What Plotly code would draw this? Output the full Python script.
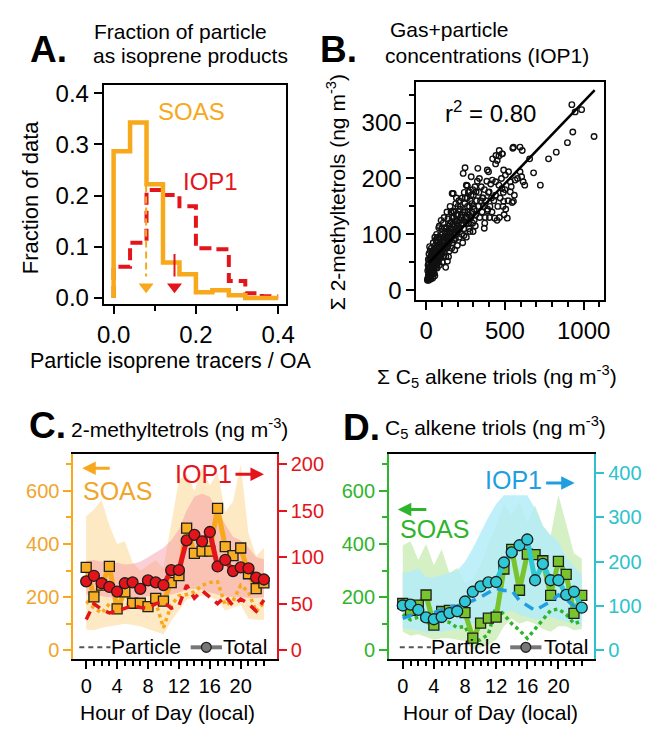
import plotly.graph_objects as go

W, H = 654, 733
FONT = "Liberation Sans, Arial, Helvetica, sans-serif"


def PX(x):
    return x / W


def PY(y):
    return 1 - y / H


# ---------------- Panel A data ----------------
bin_edges = [0.0, 0.04, 0.08, 0.12, 0.16, 0.20, 0.24, 0.28, 0.32, 0.36, 0.40]
soas_frac = [0.287, 0.343, 0.222, 0.069, 0.046, 0.011, 0.015, 0.005, 0.0, 0.0]
iop1_frac = [0.061, 0.108, 0.211, 0.201, 0.179, 0.097, 0.095, 0.033, 0.009, 0.003]
soas_mean = 0.079
iop1_mean = 0.148
soas_arrow_top = 0.22
iop1_arrow_top = 0.086
arrow_head_y = 0.022

# ---------------- Panel B data ----------------
b_triols = [
    8, 12, 15, 10, 18, 20, 25, 22, 14, 28, 30, 35, 32, 38, 40, 18, 25, 35, 12, 28,
    45, 50, 42, 55, 48, 60, 65, 58, 70, 75, 62, 72, 78, 52, 68, 80, 45, 55, 75, 66,
    85, 90, 95, 88, 100, 105, 92, 110, 115, 98, 108, 118, 84, 102, 112, 120, 95, 86, 114, 124,
    125, 130, 135, 128, 140, 145, 150, 138, 155, 160, 165, 148, 158, 132, 168, 142, 162, 152, 170, 135,
    175, 180, 185, 178, 190, 195, 200, 188, 205, 210, 215, 198, 208, 182, 172, 192, 220, 212, 202, 225,
    230, 235, 240, 245, 250, 255, 260, 265, 270, 275, 247, 235, 260, 255, 228, 242, 268, 278, 232, 286,
    285, 290, 295, 300, 305, 310, 315, 320, 325, 330, 335, 340, 345, 317, 276, 328, 298, 312, 350, 338,
    355, 360, 365, 370, 375, 380, 385, 390, 395, 400, 396, 405, 410, 415, 359, 420, 372, 388, 402, 418,
    422, 441, 443, 451, 462, 464, 482, 484, 441, 462, 482, 441, 430, 455, 470, 490, 495, 465, 450, 478,
    503, 492, 492, 488, 500, 435, 389, 369, 165, 260,
    515, 523, 534, 534, 546, 554, 550, 554, 565, 596, 610, 596, 606, 616, 626, 657, 682, 580, 520, 540,
    560, 505,
    725, 777, 826, 897, 931, 925, 946, 987, 1066,
    20, 30, 15, 42, 60, 26, 48, 36, 70, 90, 22, 55, 105, 130, 150, 80, 65, 40, 16, 33,
    10, 14, 16, 20, 24, 26, 30, 34, 36, 40, 44, 46, 50, 54, 58, 22, 32, 42, 52, 60,
    62, 66, 70, 74, 78, 82, 86, 90, 94, 98, 102, 106, 110, 114, 118, 72, 88, 104, 116, 122,
    126, 132, 138, 144, 150, 156, 162, 168, 174, 180, 186, 192, 198, 146, 134, 176, 190, 160, 170, 200,
    206, 214, 222, 230, 238, 246, 254, 262, 270, 280, 290, 300, 218, 248, 272, 240, 296, 285, 305, 260,
]
b_tetrols = [
    18, 22, 28, 35, 40, 25, 32, 48, 55, 60, 20, 38, 50, 28, 45, 65, 70, 62, 45, 42,
    35, 48, 58, 62, 72, 40, 55, 80, 68, 50, 90, 85, 75, 30, 45, 60, 85, 95, 95, 100,
    45, 58, 70, 82, 65, 90, 100, 78, 95, 110, 120, 105, 115, 50, 62, 85, 125, 95, 130, 41,
    60, 75, 95, 110, 85, 105, 120, 128, 95, 110, 130, 70, 140, 140, 85, 60, 75, 150, 118, 52,
    90, 105, 125, 140, 100, 115, 135, 155, 120, 95, 145, 80, 160, 72, 173, 165, 130, 110, 150, 100,
    120, 140, 110, 155, 130, 95, 165, 140, 120, 150, 219, 209, 187, 188, 165, 175, 175, 105, 85, 203,
    130, 155, 120, 170, 145, 185, 135, 160, 195, 150, 175, 130, 160, 176, 176, 218, 105, 115, 185, 200,
    140, 165, 150, 180, 130, 160, 195, 145, 175, 176, 212, 150, 190, 165, 165, 197, 120, 215, 130, 140,
    235, 226, 241, 232, 240, 250, 244, 244, 194, 188, 182, 170, 160, 150, 165, 175, 135, 130, 125, 200,
    206, 215, 159, 150, 180, 129, 142, 111, 173, 187,
    129, 212, 194, 176, 157, 159, 254, 256, 197, 256, 250, 212, 203, 194, 188, 235, 210, 200, 160, 185,
    170, 145,
    188, 235, 247, 264, 283, 332, 319, 323, 275,
    30, 52, 38, 22, 48, 58, 30, 70, 40, 60, 78, 26, 80, 92, 104, 112, 88, 55, 48, 75,
    20, 25, 18, 30, 22, 38, 28, 33, 45, 30, 40, 52, 38, 45, 55, 55, 58, 66, 75, 65,
    48, 60, 55, 62, 70, 55, 68, 75, 62, 80, 72, 85, 68, 88, 76, 78, 90, 100, 112, 95,
    82, 90, 78, 95, 88, 102, 95, 108, 100, 115, 92, 110, 125, 115, 105, 130, 135, 122, 142, 105,
    110, 125, 118, 135, 125, 140, 120, 150, 135, 160, 140, 150, 150, 165, 110, 98, 180, 170, 125, 130,
]
fit_x = [20, 1070]
fit_y = [50, 358]
r2_value = "0.80"

# ---------------- Panel C / D data ----------------
hours = list(range(24))
soas_mt_total = [312, 201, 245, 316, 156, 220, 177, 177, 164, 195, 185, 255,
                 281, 460, 365, 373, 373, 534, 390, 356, 385, 288, 232, 254]
soas_mt_part = [185, 160, 140, 175, 175, 180, 170, 170, 175, 180, 85, 170,
                205, 210, 220, 245, 255, 258, 170, 185, 245, 220, 145, 180]
soas_mt_hi = [505, 530, 566, 470, 400, 410, 330, 300, 320, 340, 310, 470,
              640, 665, 600, 690, 620, 670, 520, 560, 700, 440, 355, 385]
soas_mt_lo = [78, 75, 85, 90, 95, 100, 95, 90, 80, 70, 60, 110,
              150, 190, 200, 205, 200, 190, 150, 160, 170, 120, 115, 115]
iop1_mt_total = [74, 80, 72, 68, 63, 72, 73, 66, 75, 73, 70, 86,
                 86, 118, 124, 117, 127, 90, 97, 85, 89, 88, 78, 76]
iop1_mt_part = [33, 50, 44, 40, 42, 45, 48, 46, 45, 50, 52, 45,
                48, 70, 56, 64, 57, 50, 58, 48, 55, 50, 42, 54]
iop1_mt_hi = [96, 97, 95, 95, 94, 92, 93, 95, 100, 105, 110, 118,
              130, 150, 165, 168, 165, 150, 135, 122, 118, 110, 100, 98]
iop1_mt_lo = [60, 60, 58, 57, 56, 56, 57, 57, 58, 58, 58, 60,
              62, 65, 66, 65, 62, 60, 58, 57, 57, 56, 56, 57]

soas_tr_total = [176, 150, 170, 208, 95, 146, 150, 148, 142, 46, 102, 121,
                 125, 306, 380, 226, 362, 360, 337, 207, 335, 286, 139, 207]
soas_tr_part = [135, 115, 125, 105, 100, 110, 105, 85, 90, 30, 40, 60,
                165, 135, 100, 75, 45, 80, 120, 150, 155, 135, 100, 110]
soas_tr_hi = [395, 410, 340, 400, 320, 380, 290, 310, 250, 270, 320, 400,
              470, 550, 510, 560, 480, 545, 470, 430, 585, 470, 365, 345]
soas_tr_lo = [70, 55, 60, 50, 40, 45, 45, 40, 35, 5, 10, 20,
              40, 90, 120, 100, 110, 100, 80, 70, 90, 90, 75, 80]
iop1_tr_total = [101, 103, 91, 74, 70, 75, 84, 88, 110, 132, 144, 153,
                 154, 198, 221, 237, 250, 158, 195, 158, 158, 125, 132, 96]
iop1_tr_part = [72, 78, 88, 80, 85, 92, 98, 100, 105, 112, 120, 130,
                140, 135, 135, 112, 100, 90, 100, 110, 125, 115, 100, 92]
iop1_tr_hi = [175, 178, 185, 165, 165, 170, 175, 180, 200, 230, 265, 300,
              330, 350, 350, 350, 350, 320, 280, 260, 245, 210, 190, 170]
iop1_tr_lo = [50, 48, 45, 40, 40, 42, 45, 48, 55, 60, 65, 70,
              75, 85, 90, 80, 75, 70, 70, 75, 70, 65, 60, 55]

hour_ticks = [0, 4, 8, 12, 16, 20]

# ---------------- colours ----------------
ORANGE = "#f7a81b"
ORANGE_TXT = "#f0a52c"
RED = "#e4141c"
GREEN = "#2fb52c"
GREEN_SQ = "#79c32c"
CYAN = "#2cc3cc"
CYAN_C = "#30c8d4"
BLUE = "#1f9fe2"
EDGE = "#1e1e1e"
SOAS_BAND = "rgb(253,233,196)"
IOP1_BAND = "rgba(243,140,155,0.42)"
GREEN_BAND = "rgb(212,240,196)"
CYAN_BAND = "rgba(180,236,248,0.85)"

fig = go.Figure()

# ================= Panel A =================
step_x = [bin_edges[0]] + bin_edges
fig.add_trace(go.Scatter(x=step_x, y=[0] + iop1_frac + [iop1_frac[-1]], mode="lines",
                         line=dict(color=RED, width=4, dash="12px,6px", shape="hv"),
                         xaxis="x", yaxis="y", showlegend=False))
fig.add_trace(go.Scatter(x=step_x, y=[0] + soas_frac + [soas_frac[-1]], mode="lines",
                         line=dict(color=ORANGE, width=4.5, shape="hv"),
                         xaxis="x", yaxis="y", showlegend=False))
fig.add_trace(go.Scatter(x=[soas_mean, soas_mean], y=[soas_arrow_top, arrow_head_y + 0.02], mode="lines",
                         line=dict(color=ORANGE, width=2, dash="7px,4px"),
                         xaxis="x", yaxis="y", showlegend=False))
fig.add_trace(go.Scatter(x=[iop1_mean, iop1_mean], y=[iop1_arrow_top, arrow_head_y + 0.02], mode="lines",
                         line=dict(color=RED, width=2),
                         xaxis="x", yaxis="y", showlegend=False))
fig.add_trace(go.Scatter(x=[soas_mean, iop1_mean], y=[arrow_head_y, arrow_head_y], mode="markers",
                         marker=dict(symbol="triangle-down", size=13, color=[ORANGE, RED], line=dict(width=0)),
                         xaxis="x", yaxis="y", showlegend=False))

# ================= Panel B =================
fig.add_trace(go.Scatter(x=b_triols, y=b_tetrols, mode="markers",
                         marker=dict(symbol="circle-open", size=5.5, color="#111", line=dict(width=1.4)),
                         xaxis="x2", yaxis="y2", showlegend=False))
fig.add_trace(go.Scatter(x=fit_x, y=fit_y, mode="lines", line=dict(color="black", width=2.5),
                         xaxis="x2", yaxis="y2", showlegend=False))


def band(xs, lo, hi, color, xa, ya):
    fig.add_trace(go.Scatter(x=xs, y=lo, mode="lines", line=dict(width=0, color=color),
                             xaxis=xa, yaxis=ya, showlegend=False, hoverinfo="skip"))
    fig.add_trace(go.Scatter(x=xs, y=hi, mode="lines", line=dict(width=0, color=color),
                             fill="tonexty", fillcolor=color,
                             xaxis=xa, yaxis=ya, showlegend=False, hoverinfo="skip"))


# ================= Panel C =================
band(hours, soas_mt_lo, soas_mt_hi, SOAS_BAND, "x3", "y3")
band(hours, iop1_mt_lo, iop1_mt_hi, IOP1_BAND, "x3", "y4")
fig.add_trace(go.Scatter(x=hours, y=soas_mt_part, mode="lines",
                         line=dict(color=ORANGE, width=3.5, dash="dot"),
                         xaxis="x3", yaxis="y5", showlegend=False))
fig.add_trace(go.Scatter(x=hours, y=soas_mt_total, mode="lines+markers",
                         line=dict(color=ORANGE, width=5),
                         marker=dict(symbol="square", size=10, color="#f7ae22", line=dict(color=EDGE, width=1.3)),
                         xaxis="x3", yaxis="y5", showlegend=False))
fig.add_trace(go.Scatter(x=hours, y=iop1_mt_part, mode="lines",
                         line=dict(color=RED, width=3.5, dash="9px,7px"),
                         xaxis="x3", yaxis="y6", showlegend=False))
fig.add_trace(go.Scatter(x=hours, y=iop1_mt_total, mode="lines+markers",
                         line=dict(color=RED, width=5),
                         marker=dict(symbol="circle", size=11, color=RED, line=dict(color=EDGE, width=1.3)),
                         xaxis="x3", yaxis="y6", showlegend=False))

# ================= Panel D =================
band(hours, soas_tr_lo, soas_tr_hi, GREEN_BAND, "x4", "y7")
band(hours, iop1_tr_lo, iop1_tr_hi, CYAN_BAND, "x4", "y8")
fig.add_trace(go.Scatter(x=hours, y=soas_tr_part, mode="lines",
                         line=dict(color=GREEN, width=3.5, dash="dot"),
                         xaxis="x4", yaxis="y9", showlegend=False))
fig.add_trace(go.Scatter(x=hours, y=soas_tr_total, mode="lines+markers",
                         line=dict(color=GREEN_SQ, width=5),
                         marker=dict(symbol="square", size=10, color=GREEN_SQ, line=dict(color=EDGE, width=1.3)),
                         xaxis="x4", yaxis="y9", showlegend=False))
fig.add_trace(go.Scatter(x=hours, y=iop1_tr_part, mode="lines",
                         line=dict(color=BLUE, width=3.5, dash="10px,7px"),
                         xaxis="x4", yaxis="y10", showlegend=False))
fig.add_trace(go.Scatter(x=hours, y=iop1_tr_total, mode="lines+markers",
                         line=dict(color=CYAN_C, width=5),
                         marker=dict(symbol="circle", size=11, color=CYAN_C, line=dict(color=EDGE, width=1.3)),
                         xaxis="x4", yaxis="y10", showlegend=False))

# ================= Axes =================
tickf_big = dict(family=FONT, size=24, color="black")
tickf = dict(family=FONT, size=20, color="black")


def frame_axis(**kw):
    base = dict(showline=True, linecolor="black", linewidth=2, mirror=True, ticks="outside",
                ticklen=8, tickwidth=2, tickcolor="black", showgrid=False, zeroline=False)
    base.update(kw)
    return base


layout = dict(
    width=W, height=H, margin=dict(l=0, r=0, t=0, b=0),
    paper_bgcolor="white", plot_bgcolor="rgba(0,0,0,0)",
    font=dict(family=FONT, color="black"),
    showlegend=False,
)

# A
layout["xaxis"] = frame_axis(domain=[PX(99), PX(286)], range=[-0.024, 0.42], anchor="y",
                             tickvals=[0, 0.2, 0.4], ticktext=["0.0", "0.2", "0.4"], tickfont=tickf_big,
                             minor=dict(tickvals=[0.1, 0.3], ticklen=5, tickwidth=2, tickcolor="black", ticks="outside"))
layout["yaxis"] = frame_axis(domain=[PY(304), PY(81)], range=[-0.012, 0.417], anchor="x",
                             tickvals=[0, 0.1, 0.2, 0.3, 0.4], ticktext=["0.0", "0.1", "0.2", "0.3", "0.4"],
                             tickfont=tickf_big)
# B
layout["xaxis2"] = frame_axis(domain=[PX(419), PX(611)], range=[-62, 1129], anchor="y2",
                              tickvals=[0, 500, 1000], tickfont=tickf_big,
                              minor=dict(dtick=100, tick0=0, ticklen=5, tickwidth=2, tickcolor="black", ticks="outside"))
layout["yaxis2"] = frame_axis(domain=[PY(300), PY(78)], range=[-17.6, 373], anchor="x2",
                              tickvals=[0, 100, 200, 300], tickfont=tickf_big,
                              minor=dict(dtick=50, tick0=0, ticklen=5, tickwidth=2, tickcolor="black", ticks="outside"))

# C
c_dom_y = [PY(665), PY(456)]
left_rng = [-33.3, 740.7]
layout["xaxis3"] = frame_axis(domain=[PX(68), PX(276)], range=[-1.65, 24.65], anchor="y3",
                              tickvals=hour_ticks, tickfont=tickf,
                              minor=dict(tickvals=hours, ticklen=5, tickwidth=2, tickcolor="black", ticks="outside"))
layout["yaxis3"] = dict(domain=c_dom_y, range=left_rng, anchor="x3", side="left",
                        showline=True, linecolor=ORANGE, linewidth=2, ticks="outside", ticklen=8, tickwidth=2,
                        tickcolor=ORANGE, tickvals=[0, 200, 400, 600],
                        tickfont=dict(family=FONT, size=20, color=ORANGE_TXT), showgrid=False, zeroline=False,
                        minor=dict(tickvals=[100, 300, 500, 700], ticklen=5, tickwidth=2, tickcolor=ORANGE, ticks="outside"))
layout["yaxis4"] = dict(range=[-9.5, 211.3], anchor="x3", overlaying="y3", side="right",
                        showline=True, linecolor=RED, linewidth=2, ticks="outside", ticklen=8, tickwidth=2,
                        tickcolor=RED, tickvals=[0, 50, 100, 150, 200],
                        tickfont=dict(family=FONT, size=20, color=RED), showgrid=False, zeroline=False)
layout["yaxis5"] = dict(range=left_rng, anchor="x3", overlaying="y3", side="left", visible=False)
layout["yaxis6"] = dict(range=[-9.5, 211.3], anchor="x3", overlaying="y3", side="right", visible=False)

# D
layout["xaxis4"] = frame_axis(domain=[PX(391), PX(601)], range=[-1.76, 24.6], anchor="y7",
                              tickvals=hour_ticks, tickfont=tickf,
                              minor=dict(tickvals=hours, ticklen=5, tickwidth=2, tickcolor="black", ticks="outside"))
layout["yaxis7"] = dict(domain=c_dom_y, range=left_rng, anchor="x4", side="left",
                        showline=True, linecolor=GREEN, linewidth=2, ticks="outside", ticklen=8, tickwidth=2,
                        tickcolor=GREEN, tickvals=[0, 200, 400, 600],
                        tickfont=dict(family=FONT, size=20, color=GREEN), showgrid=False, zeroline=False,
                        minor=dict(tickvals=[100, 300, 500, 700], ticklen=5, tickwidth=2, tickcolor=GREEN, ticks="outside"))
layout["yaxis8"] = dict(range=[-20, 444], anchor="x4", overlaying="y7", side="right",
                        showline=True, linecolor=CYAN, linewidth=2, ticks="outside", ticklen=8, tickwidth=2,
                        tickcolor=CYAN, tickvals=[0, 100, 200, 300, 400],
                        tickfont=dict(family=FONT, size=20, color=CYAN), showgrid=False, zeroline=False)
layout["yaxis9"] = dict(range=left_rng, anchor="x4", overlaying="y7", side="left", visible=False)
layout["yaxis10"] = dict(range=[-20, 444], anchor="x4", overlaying="y7", side="right", visible=False)

fig.update_layout(**layout)

# ================= Text =================
ann = []


def txt(text, x, y, size, color="black", xanchor="center", yanchor="middle", angle=0, bold=False, ref="paper"):
    t = "<b>%s</b>" % text if bold else text
    d = dict(text=t, x=x, y=y, showarrow=False, xanchor=xanchor, yanchor=yanchor, textangle=angle,
             font=dict(family=FONT, size=size, color=color))
    if ref == "paper":
        d.update(xref="paper", yref="paper")
    else:
        d.update(xref=ref[0], yref=ref[1])
    ann.append(d)


def arrow(x_tip, y_tip, dx, color):
    ann.append(dict(x=PX(x_tip), y=PY(y_tip), xref="paper", yref="paper", ax=dx, ay=0,
                    axref="pixel", ayref="pixel", text="", showarrow=True,
                    arrowhead=2, arrowsize=0.9, arrowwidth=3, arrowcolor=color))


# A
txt("A.", PX(42), PY(45), 37, bold=True)
txt("Fraction of particle", PX(178), PY(27), 21)
txt("as isoprene products", PX(188), PY(51), 21)
txt("Fraction of data", PX(24), PY(195), 22, angle=-90)
txt("Particle isoprene tracers / OA", PX(167), PY(362), 21.5)
txt("SOAS", 0.19, 0.364, 24, color=ORANGE, ref=("x", "y"))
txt("IOP1", 0.235, 0.227, 24, color=RED, ref=("x", "y"))

# B
txt("B.", PX(339), PY(45), 37, bold=True)
txt("Gas+particle", PX(452), PY(25), 21)
txt("concentrations (IOP1)", PX(491), PY(51), 21)
txt("Σ 2-methyltetrols (ng m<sup>-3</sup>)", PX(337), PY(190), 21, angle=-90)
txt("Σ C<sub>5</sub> alkene triols (ng m<sup>-3</sup>)", PX(501), PY(378), 21)
txt("r<sup>2</sup> = " + r2_value, 410, 318, 24, ref=("x2", "y2"))

# C
txt("C.", PX(41), PY(428), 37, bold=True)
txt("2-methyltetrols (ng m<sup>-3</sup>)", PX(177), PY(430), 21)
txt("SOAS", PX(113), PY(494), 25, color=ORANGE_TXT)
arrow(77, 471, 29, ORANGE)
txt("IOP1", PX(201), PY(477), 25, color=RED)
arrow(263, 477, -30, RED)
txt("Hour of Day (local)", PX(164), PY(719), 21)
txt("Particle", PX(142), PY(652), 21)
txt("Total", PX(244), PY(652), 21)

# D
txt("D.", PX(363), PY(430), 37, bold=True)
txt("C<sub>5</sub> alkene triols (ng m<sup>-3</sup>)", PX(500), PY(430), 21)
txt("SOAS", PX(438), PY(533), 25, color=GREEN)
arrow(400, 513, 30, GREEN)
txt("IOP1", PX(518), PY(483), 25, color=BLUE)
arrow(581, 486, -30, BLUE)
txt("Hour of Day (local)", PX(495), PY(719), 21)
txt("Particle", PX(470), PY(652), 21)
txt("Total", PX(572), PY(652), 21)

fig.update_layout(annotations=ann)

shapes = []
for x0, x1, cx in [(74, 106, 204), (402, 434, 531)]:
    shapes.append(dict(type="line", xref="paper", yref="paper", x0=PX(x0), x1=PX(x1), y0=PY(653), y1=PY(653),
                       line=dict(color="#555", width=2, dash="5px,4px")))
    shapes.append(dict(type="line", xref="paper", yref="paper", x0=PX(cx - 16), x1=PX(cx + 16), y0=PY(653), y1=PY(653),
                       line=dict(color="#777", width=4)))
    shapes.append(dict(type="circle", xref="paper", yref="paper", x0=PX(cx - 5), x1=PX(cx + 5),
                       y0=PY(658), y1=PY(648), fillcolor="#777", line=dict(color="#222", width=1.3)))
fig.update_layout(shapes=shapes)

fig.write_html("out.html", config={"displayModeBar": False},
               post_script="document.body.style.margin='0px';document.body.style.overflow='hidden';")
